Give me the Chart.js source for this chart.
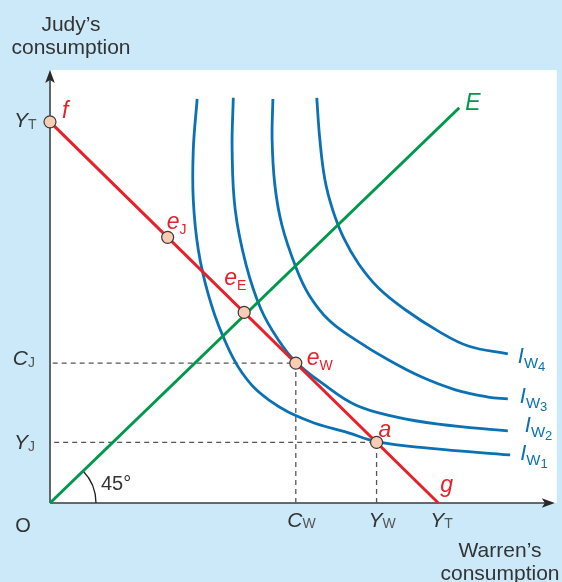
<!DOCTYPE html>
<html><head><meta charset="utf-8">
<script src="https://cdn.jsdelivr.net/npm/chart.js@4.4.1/dist/chart.umd.min.js"></script>
<style>html,body{margin:0;padding:0;background:#CBE9F9;}canvas{display:block}</style>
</head><body>
<canvas id="c" width="562" height="582"></canvas>
<script>
// ---------- data (units: total income Y_T = 100) ----------
const xTickValues = [63.3, 84.1, 100];
const xTickMain   = ['C', 'Y', 'Y'];
const xTickSub    = ['W', 'W', 'T'];
const yTickValues = [15.9, 36.7, 100];
const yTickMain   = ['Y', 'C', 'Y'];
const yTickSub    = ['J', 'J', 'T'];

const budgetX = [0, 100];
const budgetY = [100, 0];
const equalX  = [0, 105.4];
const equalY  = [0, 103.7];

const pointMain = ['f', 'e', 'e', 'e', 'a'];
const pointSub  = ['', 'J', 'E', 'W', ''];
const pointX    = [0, 30.3, 50, 63.3, 84.1];
const pointY    = [100, 69.7, 50, 36.7, 15.9];

const iw1 = [[37.9,106.0],[36.9,92.7],[36.9,79.5],[38.2,66.4],[40.8,54.6],[44.4,44.1],[49.5,34.1],[56.4,27.0],[66.7,21.5],[76.9,18.4],[84.1,16.1],[97.4,14.4],[118.5,12.6]];
const iw2 = [[47.2,106.3],[46.9,92.7],[47.7,76.9],[50.5,62.5],[54.4,50.7],[59.0,42.5],[63.3,37.0],[70.0,31.5],[78.7,25.7],[89.0,22.6],[100,20.7],[117.9,18.9]];
const iw3 = [[57.4,106.0],[57.2,95.3],[57.9,83.5],[59.7,73.0],[63.3,61.9],[66.7,54.6],[71.8,48.0],[78.7,42.8],[87.2,37.5],[95.6,33.1],[104.4,29.7],[112.8,27.8],[117.9,27.3]];
const iw4 = [[68.7,106.3],[69.5,95.3],[70.8,84.8],[72.8,76.9],[75.6,69.6],[79.5,62.7],[84.6,56.4],[91.5,50.7],[100,45.1],[107.7,41.2],[117.9,39.1]];
const curveNames = ['1', '2', '3', '4'];

// ---------- styles ----------
const BG = '#CBE9F9', RED = '#E8202A', GREEN = '#00994C', BLUE = '#0A72B4', INK = '#333333';
const FONT = '"Liberation Sans", Arial, Helvetica, sans-serif';

const toPts = (arr) => arr.map(p => ({x: p[0], y: p[1]}));
const zip = (xs, ys) => xs.map((x, i) => ({x: x, y: ys[i]}));

const curveStyle = (d) => ({data: toPts(d), showLine: true, borderColor: BLUE, borderWidth: 2.8,
  pointRadius: 0, tension: 0.4, fill: false, order: 3, clip: false});

const datasets = [
  {data: zip(pointX, pointY), showLine: false, pointRadius: 6, pointBackgroundColor: '#F9CDB4',
   pointBorderColor: '#3a3a3a', pointBorderWidth: 1.2, order: 0, clip: false},
  {data: zip(budgetX, budgetY), showLine: true, borderColor: RED, borderWidth: 3, pointRadius: 0, order: 1, clip: false},
  {data: zip(equalX, equalY), showLine: true, borderColor: GREEN, borderWidth: 3, pointRadius: 0, order: 2, clip: false},
  curveStyle(iw1), curveStyle(iw2), curveStyle(iw3), curveStyle(iw4),
  {data: [{x: pointX[3], y: 0}, {x: pointX[3], y: pointY[3]}, {x: 0, y: pointY[3]}], showLine: true,
   borderColor: '#555', borderWidth: 1.3, borderDash: [5, 4], pointRadius: 0, order: 4},
  {data: [{x: pointX[4], y: 0}, {x: pointX[4], y: pointY[4]}, {x: 0, y: pointY[4]}], showLine: true,
   borderColor: '#555', borderWidth: 1.3, borderDash: [5, 4], pointRadius: 0, order: 4}
];

function arrow(ctx, tx, ty, dir) {
  ctx.save();
  ctx.translate(tx, ty);
  if (dir === 'right') ctx.rotate(Math.PI / 2);
  ctx.beginPath();
  ctx.moveTo(0, 0);
  ctx.lineTo(4.8, 13);
  ctx.lineTo(0, 10);
  ctx.lineTo(-4.8, 13);
  ctx.closePath();
  ctx.fillStyle = '#2a2a2a';
  ctx.fill();
  ctx.restore();
}

function subText(ctx, main, sub, x, y, mainFont, subFont, color, subColor, subDy) {
  ctx.font = mainFont; ctx.fillStyle = color; ctx.textAlign = 'left'; ctx.textBaseline = 'alphabetic';
  ctx.fillText(main, x, y);
  const w = ctx.measureText(main).width;
  if (sub) { ctx.font = subFont; ctx.fillStyle = subColor; ctx.fillText(sub, x + w, y + subDy); }
  return x + w;
}

const decor = {
  id: 'decor',
  beforeDraw(chart) {
    const {ctx, chartArea} = chart;
    const xs = chart.scales.x, ys = chart.scales.y;
    ctx.save();
    ctx.fillStyle = BG; ctx.fillRect(0, 0, chart.width, chart.height);
    const x0 = xs.getPixelForValue(0), y0 = ys.getPixelForValue(0);
    ctx.fillStyle = '#ffffff';
    ctx.fillRect(x0 + 1, chartArea.top, chartArea.right + 2 - x0 - 1, y0 - chartArea.top);
    ctx.restore();
  },
  beforeDatasetsDraw(chart) {
    const {ctx, chartArea} = chart;
    const xs = chart.scales.x, ys = chart.scales.y;
    const x0 = xs.getPixelForValue(0), y0 = ys.getPixelForValue(0);
    ctx.save();
    ctx.strokeStyle = '#3a3a3a'; ctx.lineWidth = 1.5;
    ctx.beginPath(); ctx.moveTo(x0, y0); ctx.lineTo(x0, chartArea.top + 6); ctx.stroke();
    ctx.beginPath(); ctx.moveTo(x0, y0); ctx.lineTo(chartArea.right - 6, y0); ctx.stroke();
    arrow(ctx, x0, chartArea.top, 'up');
    arrow(ctx, chartArea.right, y0, 'right');
    const ang = Math.atan2(ys.getPixelForValue(0) - ys.getPixelForValue(equalY[1]), xs.getPixelForValue(equalX[1]) - x0);
    ctx.lineWidth = 1.3; ctx.strokeStyle = '#222';
    ctx.beginPath(); ctx.arc(x0, y0, 46, -ang, 0); ctx.stroke();
    ctx.restore();
  },
  afterDraw(chart) {
    const {ctx} = chart;
    const xs = chart.scales.x, ys = chart.scales.y;
    const px = v => xs.getPixelForValue(v), py = v => ys.getPixelForValue(v);
    ctx.save();
    ctx.fillStyle = INK; ctx.font = '21px ' + FONT; ctx.textAlign = 'center'; ctx.textBaseline = 'alphabetic';
    ctx.fillText('Judy\u2019s', 71, 31);
    ctx.fillText('consumption', 71, 54);
    ctx.fillText('Warren\u2019s', 500, 557);
    ctx.fillText('consumption', 500, 580);
    ctx.font = '20px ' + FONT;
    ctx.fillText('O', 23, 532);
    ctx.textAlign = 'left';
    ctx.fillText('45\u00b0', 101, 490);
    const mainF = 'italic 21px ' + FONT, subF = '14px ' + FONT;
    xTickValues.forEach((v, i) => {
      ctx.font = mainF;
      const w = ctx.measureText(xTickMain[i]).width;
      subText(ctx, xTickMain[i], xTickSub[i], px(v) - w / 2 - 1, 527, mainF, subF, INK, '#555', 1);
    });
    const yOff = [7, 2, 5];
    yTickValues.forEach((v, i) => {
      ctx.font = mainF;
      const w = ctx.measureText(yTickMain[i]).width;
      subText(ctx, yTickMain[i], yTickSub[i], 27 - w + 1, py(v) + yOff[i], mainF, subF, INK, '#555', 2);
    });
    const ptF = 'italic 23px ' + FONT, ptSubF = '14px ' + FONT;
    const offs = [[12, -4], [-1, -8], [-20, -27], [11, 2], [2, -5]];
    pointX.forEach((v, i) => {
      subText(ctx, pointMain[i], pointSub[i], px(v) + offs[i][0], py(pointY[i]) + offs[i][1], ptF, ptSubF, RED, RED, 5);
    });
    subText(ctx, 'g', '', px(budgetX[1]) + 2, py(budgetY[1]) - 11, ptF, ptSubF, RED, RED, 0);
    ctx.fillStyle = GREEN; ctx.font = ptF;
    ctx.fillText('E', px(equalX[1]) + 6, py(equalY[1]) + 2);
    const curves = [iw1, iw2, iw3, iw4];
    const lOff = [[10, 5], [17, 1], [12, 4], [10, 9]];
    curves.forEach((c, i) => {
      const end = c[c.length - 1];
      const lx = px(end[0]) + lOff[i][0], ly = py(end[1]) + lOff[i][1];
      const x2 = subText(ctx, 'I', 'W', lx, ly, 'italic 22px ' + FONT, '15px ' + FONT, BLUE, BLUE, 5);
      ctx.font = '15px ' + FONT;
      const ww = ctx.measureText('W').width;
      ctx.font = '13px ' + FONT; ctx.fillStyle = BLUE;
      ctx.fillText(curveNames[i], x2 + ww, ly + 8);
    });
    ctx.restore();
  }
};

new Chart(document.getElementById('c'), {
  type: 'scatter',
  data: {datasets: datasets},
  options: {
    responsive: false, devicePixelRatio: 1, animation: false,
    layout: {padding: {left: 50, top: 70, right: 5, bottom: 79}},
    plugins: {legend: {display: false}, tooltip: {enabled: false}},
    scales: {
      x: {type: 'linear', min: 0, max: 130, display: false},
      y: {type: 'linear', min: 0, max: 113.6, display: false}
    }
  },
  plugins: [decor]
});
</script>
</body></html>
